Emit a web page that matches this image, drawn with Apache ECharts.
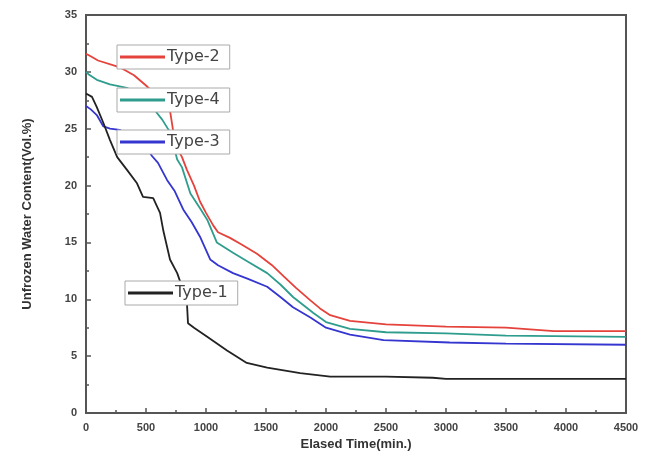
<!DOCTYPE html>
<html>
<head>
<meta charset="utf-8">
<script src="https://cdn.jsdelivr.net/npm/echarts@6/dist/echarts.min.js"></script>
<style>html,body{margin:0;padding:0;background:#fff;}#c{width:656px;height:473px;}</style>
</head>
<body>
<div id="c"></div>
<script>
var type2Time = [0, 50, 100, 250, 300, 400, 500, 600, 700, 725, 760, 800, 840, 900, 950, 1000, 1060, 1100, 1200, 1300, 1425, 1550, 1650, 1750, 1870, 1950, 2035, 2200, 2500, 3000, 3500, 3900, 4500];
var type2Water = [31.6, 31.3, 31.0, 30.5, 30.3, 29.7, 28.8, 27.8, 26.6, 24.9, 23.3, 22.5, 21.4, 20.0, 18.6, 17.6, 16.5, 15.9, 15.4, 14.8, 14.0, 13.0, 12.0, 11.0, 9.9, 9.2, 8.6, 8.1, 7.8, 7.6, 7.5, 7.2, 7.2];

var type4Time = [0, 20, 90, 200, 340, 450, 575, 635, 700, 760, 800, 870, 950, 1010, 1090, 1225, 1350, 1510, 1620, 1725, 1895, 2000, 2200, 2500, 3000, 3500, 4500];
var type4Water = [30.0, 29.8, 29.3, 28.9, 28.6, 28.0, 26.6, 25.8, 24.7, 22.3, 21.6, 19.3, 18.0, 17.0, 15.0, 14.1, 13.3, 12.3, 11.3, 10.2, 8.8, 8.0, 7.4, 7.1, 7.0, 6.8, 6.7];

var type3Time = [0, 40, 90, 145, 200, 280, 400, 500, 550, 600, 675, 740, 810, 880, 950, 1035, 1100, 1225, 1350, 1510, 1620, 1725, 1870, 2000, 2200, 2480, 3030, 3500, 4500];
var type3Water = [27.0, 26.7, 26.2, 25.2, 25.0, 24.9, 24.2, 23.4, 22.6, 22.0, 20.5, 19.5, 17.9, 16.8, 15.5, 13.5, 13.0, 12.3, 11.8, 11.1, 10.2, 9.3, 8.4, 7.5, 6.9, 6.4, 6.2, 6.1, 6.0];

var type1Time = [0, 50, 90, 145, 200, 260, 340, 425, 475, 560, 617, 645, 700, 760, 810, 840, 850, 900, 1010, 1175, 1340, 1510, 1785, 2035, 2500, 2890, 3000, 4500];
var type1Water = [28.1, 27.8, 26.9, 25.5, 24.0, 22.5, 21.4, 20.2, 19.0, 18.9, 17.6, 16.0, 13.5, 12.3, 10.8, 9.9, 7.9, 7.5, 6.7, 5.5, 4.4, 4.0, 3.5, 3.2, 3.2, 3.1, 3.0, 3.0];

var seriesNames = ['Type-2', 'Type-4', 'Type-3', 'Type-1'];
var xAxisTitle = 'Elased Time(min.)';
var yAxisTitle = 'Unfrozen Water Content(Vol.%)';

function pairs(t, v) { return t.map(function (x, i) { return [x, v[i]]; }); }

var colors = { 'Type-2': '#e5423c', 'Type-4': '#2f9d8d', 'Type-3': '#3535d0', 'Type-1': '#222222' };
var seriesData = {
  'Type-2': pairs(type2Time, type2Water),
  'Type-4': pairs(type4Time, type4Water),
  'Type-3': pairs(type3Time, type3Water),
  'Type-1': pairs(type1Time, type1Water)
};
var legendPos = { 'Type-2': [117, 45], 'Type-4': [117, 88], 'Type-3': [117, 130], 'Type-1': [125, 281] };

var legends = seriesNames.map(function (n) {
  return {
    data: [n], left: legendPos[n][0], top: legendPos[n][1],
    icon: 'rect', itemWidth: 45, itemHeight: 3, itemGap: 4,
    backgroundColor: '#fff', borderColor: '#aaa', borderWidth: 1,
    padding: [4, 10, 4, 3], selectedMode: false,
    textStyle: { fontFamily: 'DejaVu Sans', fontSize: 16, color: '#444', padding: [0, 0, 0, -3] }
  };
});

var chart = echarts.init(document.getElementById('c'), null, { renderer: 'canvas' });
chart.setOption({
  animation: false,
  backgroundColor: '#fff',
  grid: { left: 86, right: 30, top: 15, bottom: 60, show: true, borderColor: '#555', borderWidth: 2, backgroundColor: 'transparent' },
  legend: legends,
  xAxis: {
    type: 'value', min: 0, max: 4500, interval: 500,
    name: xAxisTitle, nameLocation: 'middle', nameGap: 22,
    nameTextStyle: { fontFamily: 'Liberation Sans, Arial', fontWeight: 'bold', fontSize: 13, color: '#333' },
    axisLine: { show: true, lineStyle: { color: '#555', width: 2 } },
    axisTick: { show: true, inside: true, length: 5, lineStyle: { color: '#555', width: 1.5 } },
    minorTick: { show: true, splitNumber: 2, length: 3, lineStyle: { color: '#555', width: 1.5 } },
    splitLine: { show: false },
    axisLabel: { fontFamily: 'Liberation Sans, Arial', fontWeight: 'bold', fontSize: 11, color: '#444', margin: 9,
      formatter: function (v) { return String(v); } }
  },
  yAxis: {
    type: 'value', min: 0, max: 35, interval: 5,
    name: yAxisTitle, nameLocation: 'middle', nameGap: 52,
    nameTextStyle: { fontFamily: 'Liberation Sans, Arial', fontWeight: 'bold', fontSize: 13, color: '#333' },
    axisLine: { show: true, lineStyle: { color: '#555', width: 2 } },
    axisTick: { show: true, inside: true, length: 5, lineStyle: { color: '#555', width: 1.5 } },
    minorTick: { show: true, splitNumber: 2, length: 3, lineStyle: { color: '#555', width: 1.5 } },
    splitLine: { show: false },
    axisLabel: { fontFamily: 'Liberation Sans, Arial', fontWeight: 'bold', fontSize: 11, color: '#444', margin: 9,
      formatter: function (v) { return String(v); } }
  },
  series: seriesNames.map(function (n) {
    return {
      name: n, type: 'line', data: seriesData[n], showSymbol: false, symbol: 'none',
      lineStyle: { color: colors[n], width: 1.8 }, itemStyle: { color: colors[n] }, z: 2
    };
  })
});
</script>
</body>
</html>
